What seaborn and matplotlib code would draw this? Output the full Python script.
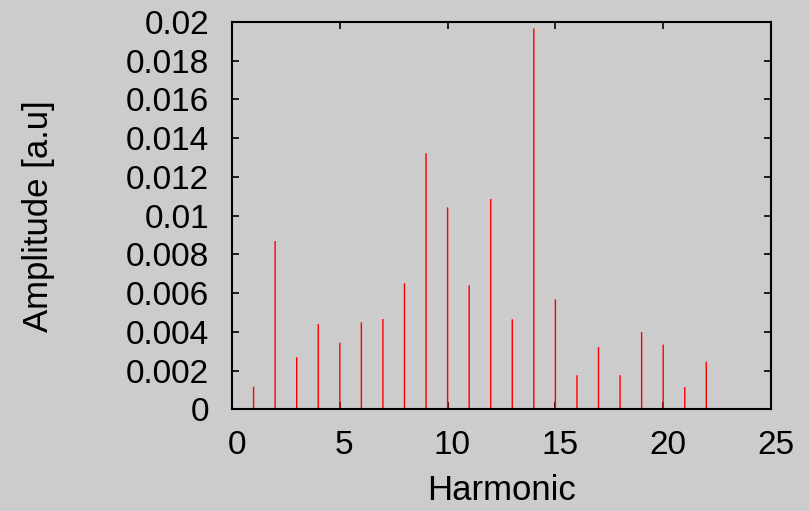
import matplotlib
matplotlib.use("Agg")
import matplotlib.pyplot as plt
from matplotlib.transforms import ScaledTranslation
import numpy as np
import pandas as pd
import seaborn as sns

# Harmonic spectrum amplitudes
harmonics = list(range(0, 23))
amplitudes = [0.00452, 0.00117, 0.00869, 0.00269, 0.00441, 0.00344, 0.00449,
              0.00466, 0.00651, 0.01322, 0.01043, 0.00640, 0.01086, 0.00465,
              0.01967, 0.00568, 0.00176, 0.00322, 0.00176, 0.00399, 0.00334,
              0.00115, 0.00246]
x_ticks = [0, 5, 10, 15, 20, 25]
y_ticks = [0, 0.002, 0.004, 0.006, 0.008, 0.01, 0.012, 0.014, 0.016, 0.018, 0.02]
y_tick_labels = ["0", "0.002", "0.004", "0.006", "0.008", "0.01", "0.012",
                 "0.014", "0.016", "0.018", "0.02"]

df = pd.DataFrame({"Harmonic": harmonics, "Amplitude": amplitudes})

bg = "#cccccc"
sns.set_theme(style="ticks", rc={
    "figure.facecolor": bg,
    "axes.facecolor": bg,
    "axes.edgecolor": "black",
    "axes.linewidth": 1.5,
    "text.color": "black",
    "axes.labelcolor": "black",
    "xtick.color": "black",
    "ytick.color": "black",
    "xtick.direction": "in",
    "ytick.direction": "in",
    "xtick.major.size": 5,
    "ytick.major.size": 5,
    "xtick.major.width": 1.2,
    "ytick.major.width": 1.2,
    "xtick.top": True,
    "ytick.right": True,
})
plt.rcParams["font.family"] = ["Liberation Sans", "DejaVu Sans"]

fig = plt.figure(figsize=(8.09, 5.11), dpi=100)
ax = fig.add_axes([0.2868, 0.199, 0.953 - 0.2868, 0.957 - 0.199])

# Impulses: very narrow bars at each harmonic
sns.barplot(data=df, x="Harmonic", y="Amplitude", native_scale=True,
            width=0.065, color="#ff0000", saturation=1, linewidth=0, ax=ax)
for bar in ax.patches:
    bar.set_snap(False)
    bar.set_antialiased(True)

ax.set_xlim(0, 25)
ax.set_ylim(0, 0.02)
ax.set_xticks(x_ticks)
ax.set_xticklabels([str(t) for t in x_ticks])
ax.set_yticks(y_ticks)
ax.set_yticklabels(y_tick_labels)
ax.tick_params(axis="both", labelsize=24)
ax.tick_params(axis="x", pad=15)
ax.tick_params(axis="y", pad=16.5)
shift = ScaledTranslation(4.5 / 100, 0, fig.dpi_scale_trans)
for lab in ax.get_xticklabels():
    lab.set_transform(lab.get_transform() + shift)
for s in ax.spines.values():
    s.set_visible(True)
    s.set_zorder(5)

ax.set_xlabel("Harmonic", fontsize=25, labelpad=9)
ax.set_ylabel("Amplitude [a.u]", fontsize=25, labelpad=51)

fig.savefig("out.png", dpi=100, facecolor=bg)
